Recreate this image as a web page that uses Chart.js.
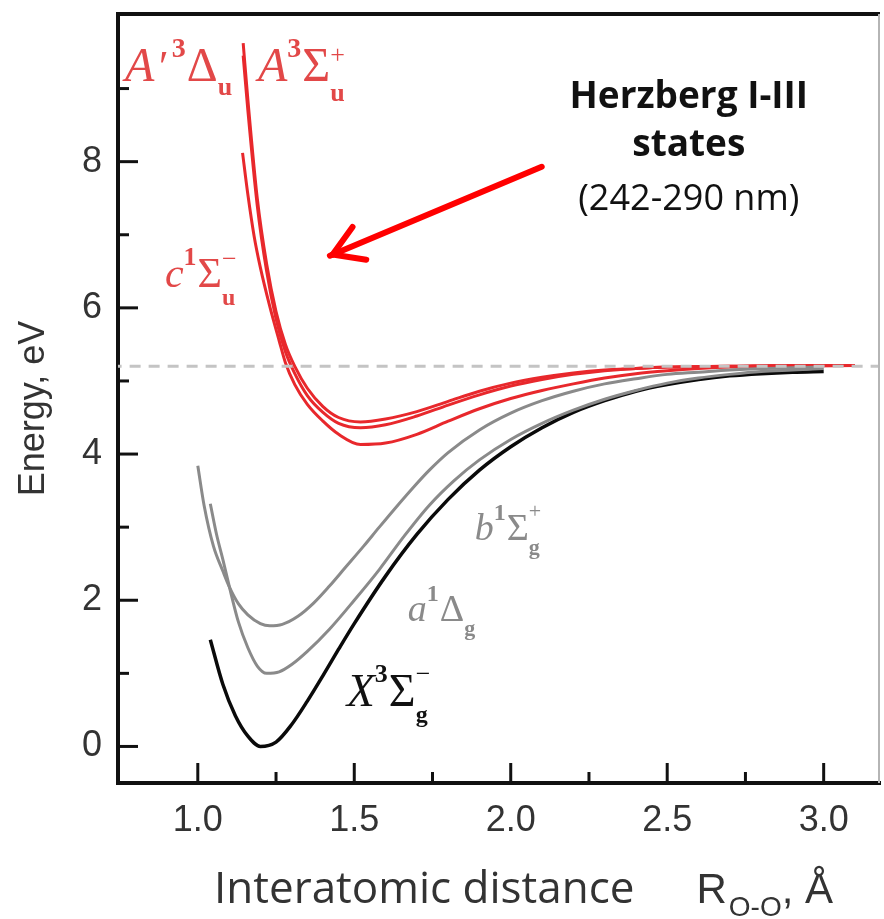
<!DOCTYPE html>
<html>
<head>
<meta charset="utf-8">
<script src="https://cdn.jsdelivr.net/npm/chart.js@4.4.1/dist/chart.umd.min.js"></script>
<style>
  html, body { margin: 0; padding: 0; background: #fff; }
  #wrap { width: 884px; height: 919px; }
</style>
</head>
<body>
<div id="wrap"><canvas id="pec" width="884" height="919"></canvas></div>
<script>
// Step 1: Data (R in Å, energy in eV)

// ground state X3Σg-
const rX = [1.04, 1.08, 1.12, 1.16, 1.20, 1.25, 1.30, 1.35, 1.40, 1.45, 1.50, 1.60, 1.70, 1.80, 1.90, 2.00, 2.10, 2.20, 2.30, 2.40, 2.50, 2.60, 2.70, 2.80, 2.90, 3.00];
const eX = [1.46, 0.85, 0.42, 0.14, 0.00, 0.06, 0.30, 0.62, 0.97, 1.33, 1.68, 2.33, 2.90, 3.38, 3.78, 4.10, 4.36, 4.57, 4.73, 4.86, 4.95, 5.02, 5.07, 5.10, 5.12, 5.13];

// a1Δg
const rA1 = [1.04, 1.06, 1.08, 1.10, 1.13, 1.16, 1.19, 1.22, 1.26, 1.30, 1.35, 1.42, 1.50, 1.58, 1.66, 1.74, 1.82, 1.90, 2.00, 2.10, 2.20, 2.30, 2.40, 2.50, 2.60, 2.70, 2.80, 2.90, 3.00];
const eA1 = [3.32, 2.90, 2.56, 2.20, 1.70, 1.35, 1.10, 1.00, 1.02, 1.12, 1.30, 1.60, 2.00, 2.42, 2.88, 3.30, 3.64, 3.92, 4.20, 4.42, 4.60, 4.75, 4.87, 4.97, 5.04, 5.09, 5.13, 5.15, 5.17];

// b1Σg+
const rB1 = [1.00, 1.02, 1.05, 1.08, 1.10, 1.13, 1.16, 1.20, 1.23, 1.27, 1.32, 1.37, 1.42, 1.47, 1.53, 1.58, 1.635, 1.69, 1.74, 1.80, 1.90, 2.00, 2.10, 2.20, 2.30, 2.40, 2.50, 2.60, 2.70, 2.80, 2.90, 3.00];
const eB1 = [3.84, 3.30, 2.74, 2.40, 2.19, 1.95, 1.80, 1.68, 1.65, 1.67, 1.78, 1.96, 2.19, 2.44, 2.74, 3.00, 3.28, 3.55, 3.78, 4.02, 4.33, 4.56, 4.73, 4.86, 4.96, 5.03, 5.09, 5.12, 5.15, 5.17, 5.18, 5.19];

// c1Σu-
const rC1 = [1.143, 1.16, 1.18, 1.20, 1.23, 1.26, 1.28, 1.31, 1.35, 1.40, 1.45, 1.52, 1.60, 1.70, 1.80, 1.90, 2.00, 2.10, 2.20, 2.30, 2.40, 2.50, 2.60, 2.70, 2.90, 3.10];
const eC1 = [8.12, 7.55, 6.98, 6.55, 6.02, 5.55, 5.25, 4.95, 4.68, 4.45, 4.27, 4.13, 4.15, 4.27, 4.45, 4.62, 4.76, 4.87, 4.96, 5.04, 5.10, 5.14, 5.17, 5.19, 5.20, 5.21];

// A'3Δu
const rAp3 = [1.145, 1.16, 1.19, 1.22, 1.25, 1.28, 1.31, 1.35, 1.40, 1.45, 1.52, 1.60, 1.70, 1.80, 1.90, 2.00, 2.10, 2.20, 2.30, 2.40, 2.50, 2.70, 2.90, 3.10];
const eAp3 = [9.45, 8.70, 7.40, 6.50, 5.85, 5.40, 5.10, 4.80, 4.57, 4.42, 4.36, 4.40, 4.52, 4.67, 4.81, 4.93, 5.02, 5.09, 5.14, 5.17, 5.19, 5.20, 5.21, 5.21];

// A3Σu+
const rA3 = [1.145, 1.16, 1.19, 1.22, 1.25, 1.28, 1.31, 1.35, 1.40, 1.45, 1.52, 1.60, 1.70, 1.80, 1.90, 2.00, 2.10, 2.20, 2.30, 2.40, 2.50, 2.70, 2.90, 3.10];
const eA3 = [9.62, 8.85, 7.50, 6.60, 5.95, 5.50, 5.20, 4.90, 4.65, 4.50, 4.44, 4.48, 4.58, 4.72, 4.86, 4.97, 5.05, 5.11, 5.15, 5.17, 5.19, 5.20, 5.21, 5.21];

// dissociation limit O + O
const limitR = [0.6, 3.4];
const limitE = [5.2, 5.2];

// axis ticks
const xTickValues = [1.0, 1.5, 2.0, 2.5, 3.0];
const xMinorTicks = [1.25, 1.75, 2.25, 2.75];
const yTickValues = [0, 2, 4, 6, 8];
const yMinorTicks = [1, 3, 5, 7, 9];

// Step 2: helpers
const pts = (xs, ys) => xs.map((x, i) => ({ x: x, y: ys[i] }));

const RED = "#e8282c";
const RED_TXT = "#e24848";
const GRAY = "#8a8a8a";
const SERIF = "'Liberation Serif', 'DejaVu Serif', serif";

function curve(label, xs, ys, color, width) {
  return {
    label: label,
    data: pts(xs, ys),
    borderColor: color,
    borderWidth: width,
    pointRadius: 0,
    showLine: true,
    fill: false,
    cubicInterpolationMode: "monotone"
  };
}

// text with super/subscripts, drawn left to right from (x, baseline)
function richText(ctx, x, y, parts, color) {
  ctx.fillStyle = color;
  ctx.textBaseline = "alphabetic";
  ctx.textAlign = "left";
  let cx = x, lastStart = x;
  parts.forEach(p => {
    ctx.font = p.f;
    const w = ctx.measureText(p.t).width;
    const sx = p.stack ? lastStart : cx;
    ctx.fillText(p.t, sx + (p.dx || 0), y + (p.dy || 0));
    if (p.stack) {
      cx = Math.max(cx, sx + w);
    } else {
      lastStart = sx;
      cx = sx + w + (p.gap || 0);
    }
  });
}

// labels placed in data space: left edge R, baseline E
const stateLabels = [
  { r: 0.767, e: 9.10, color: RED_TXT, parts: [
    { t: "A", f: "italic 48px " + SERIF, gap: 2 },
    { t: "′", f: "italic 44px " + SERIF, gap: 6 },
    { t: "3", f: "bold 28px " + SERIF, dy: -24, gap: 1 },
    { t: "Δ", f: "48px " + SERIF },
    { t: "u", f: "bold 26px " + SERIF, dy: 14 } ] },
  { r: 1.192, e: 9.10, color: RED_TXT, parts: [
    { t: "A", f: "italic 48px " + SERIF },
    { t: "3", f: "bold 28px " + SERIF, dy: -24, gap: 1 },
    { t: "Σ", f: "48px " + SERIF },
    { t: "+", f: "26px " + SERIF, dy: -18 },
    { t: "u", f: "bold 26px " + SERIF, dy: 20, stack: true } ] },
  { r: 0.895, e: 6.28, color: RED_TXT, parts: [
    { t: "c", f: "italic 42px " + SERIF },
    { t: "1", f: "bold 26px " + SERIF, dy: -22, gap: 1 },
    { t: "Σ", f: "42px " + SERIF },
    { t: "−", f: "26px " + SERIF, dy: -20 },
    { t: "u", f: "bold 24px " + SERIF, dy: 18, stack: true } ] },
  { r: 1.885, e: 2.83, color: GRAY, parts: [
    { t: "b", f: "italic 38px " + SERIF },
    { t: "1", f: "bold 24px " + SERIF, dy: -20, gap: 1 },
    { t: "Σ", f: "38px " + SERIF },
    { t: "+", f: "22px " + SERIF, dy: -22 },
    { t: "g", f: "bold 22px " + SERIF, dy: 14, stack: true } ] },
  { r: 1.671, e: 1.71, color: GRAY, parts: [
    { t: "a", f: "italic 38px " + SERIF },
    { t: "1", f: "bold 24px " + SERIF, dy: -20, gap: 1 },
    { t: "Δ", f: "38px " + SERIF },
    { t: "g", f: "bold 22px " + SERIF, dy: 14 } ] },
  { r: 1.476, e: 0.547, color: "#111", parts: [
    { t: "X", f: "italic 46px " + SERIF },
    { t: "3", f: "bold 26px " + SERIF, dy: -24, gap: 1 },
    { t: "Σ", f: "46px " + SERIF },
    { t: "−", f: "26px " + SERIF, dy: -24 },
    { t: "g", f: "bold 24px " + SERIF, dy: 16, stack: true } ] }
];

// arrow tail / tip and the note, in data space
const arrowFrom = { r: 2.099, e: 7.93 };
const arrowTo = { r: 1.431, e: 6.73 };
const noteAt = { r: 2.569, lines: [
  { e: 8.74, t: "Herzberg I-III", f: "bold 37px 'Open Sans'" },
  { e: 8.08, t: "states", f: "bold 37px 'Open Sans'" },
  { e: 7.34, t: "(242-290 nm)", f: "36px 'Open Sans'" } ] };

const decor = {
  id: "decor",
  afterDraw(chart) {
    const { ctx, chartArea: a, scales: { x, y } } = chart;
    ctx.save();

    // dark frame: top, thin right edge
    ctx.strokeStyle = "#111";
    ctx.lineWidth = 4;
    ctx.beginPath();
    ctx.moveTo(a.left - 2, a.top);
    ctx.lineTo(a.right, a.top);
    ctx.stroke();
    ctx.strokeStyle = "#b5b5b5";
    ctx.lineWidth = 2;
    ctx.beginPath();
    ctx.moveTo(a.right - 1, a.top);
    ctx.lineTo(a.right - 1, a.bottom);
    ctx.stroke();

    // inward ticks
    ctx.strokeStyle = "#111";
    ctx.lineWidth = 3;
    const tick = (x1, y1, x2, y2) => { ctx.beginPath(); ctx.moveTo(x1, y1); ctx.lineTo(x2, y2); ctx.stroke(); };
    xTickValues.forEach(v => { const p = x.getPixelForValue(v); tick(p, a.bottom, p, a.bottom - 20); });
    xMinorTicks.forEach(v => { const p = x.getPixelForValue(v); tick(p, a.bottom, p, a.bottom - 11); });
    yTickValues.forEach(v => { const p = y.getPixelForValue(v); tick(a.left, p, a.left + 20, p); });
    yMinorTicks.forEach(v => { const p = y.getPixelForValue(v); tick(a.left, p, a.left + 11, p); });

    // red arrow
    const fx = x.getPixelForValue(arrowFrom.r), fy = y.getPixelForValue(arrowFrom.e);
    const tx = x.getPixelForValue(arrowTo.r), ty = y.getPixelForValue(arrowTo.e);
    const ang = Math.atan2(ty - fy, tx - fx);
    ctx.strokeStyle = "#ff0000";
    ctx.lineWidth = 6;
    ctx.lineCap = "round";
    tick(fx, fy, tx + 3 * Math.cos(ang), ty + 3 * Math.sin(ang));
    [0.55, -0.55].forEach(d => {
      tick(tx, ty, tx - 34 * Math.cos(ang + d), ty - 34 * Math.sin(ang + d));
    });

    // state labels
    stateLabels.forEach(l => richText(ctx, x.getPixelForValue(l.r), y.getPixelForValue(l.e), l.parts, l.color));

    // note
    ctx.fillStyle = "#111";
    ctx.textAlign = "center";
    ctx.textBaseline = "alphabetic";
    noteAt.lines.forEach(l => {
      ctx.font = l.f;
      ctx.fillText(l.t, x.getPixelForValue(noteAt.r), y.getPixelForValue(l.e));
    });

    // axis titles
    ctx.fillStyle = "#333";
    ctx.save();
    ctx.translate(34, (a.top + a.bottom) / 2 + 10);
    ctx.rotate(-Math.PI / 2);
    ctx.textAlign = "center";
    ctx.textBaseline = "middle";
    ctx.font = "36px 'Liberation Sans'";
    ctx.fillText("Energy, eV", 0, 0);
    ctx.restore();

    const base = a.bottom + 120;
    richText(ctx, 214, base, [
      { t: "Interatomic distance", f: "44px 'Open Sans'", gap: 62 },
      { t: "R", f: "42px 'Liberation Sans'", gap: 2 },
      { t: "O-O", f: "28px 'Liberation Sans'", dy: 13 },
      { t: ", Å", f: "42px 'Liberation Sans'" } ], "#333");

    ctx.restore();
  }
};

// Step 3: Chart
const ctx = document.getElementById("pec").getContext("2d");

const noPad = s => { s.paddingTop = 0; s.paddingBottom = 0; s.paddingLeft = 0; s.paddingRight = 0; };

const pecChart = new Chart(ctx, {
  type: "scatter",
  data: {
    datasets: [
      { label: "limit", data: pts(limitR, limitE), borderColor: "#c4c4c4", borderWidth: 3, borderDash: [11, 8], pointRadius: 0, showLine: true },
      curve("b1Sg+", rB1, eB1, GRAY, 3),
      curve("a1Dg", rA1, eA1, GRAY, 3),
      curve("X3Sg-", rX, eX, "#0a0a0a", 3.5),
      curve("c1Su-", rC1, eC1, RED, 3),
      curve("A'3Du", rAp3, eAp3, RED, 3),
      curve("A3Su+", rA3, eA3, RED, 3)
    ]
  },
  options: {
    responsive: false,
    animation: false,
    devicePixelRatio: 1,
    layout: { padding: { top: 14, right: 4, left: 0, bottom: 0 } },
    plugins: { legend: { display: false }, tooltip: { enabled: false } },
    scales: {
      x: {
        type: "linear",
        min: 0.745,
        max: 3.18,
        afterBuildTicks: ax => { ax.ticks = xTickValues.map(v => ({ value: v })); },
        afterFit: s => { s.height = 136; noPad(s); },
        grid: { drawOnChartArea: false, drawTicks: false },
        border: { color: "#111", width: 4 },
        ticks: { padding: 16, color: "#333", font: { family: "'Liberation Sans'", size: 36 }, maxRotation: 0, autoSkip: false, callback: v => v.toFixed(1) }
      },
      y: {
        type: "linear",
        min: -0.5,
        max: 10.02,
        afterBuildTicks: ax => { ax.ticks = yTickValues.map(v => ({ value: v })); },
        afterFit: s => { s.width = 118; noPad(s); },
        grid: { drawOnChartArea: false, drawTicks: false },
        border: { color: "#111", width: 4 },
        ticks: { padding: 16, color: "#333", font: { family: "'Liberation Sans'", size: 36 }, autoSkip: false, callback: v => String(v) }
      }
    }
  },
  plugins: [decor]
});
</script>
</body>
</html>
